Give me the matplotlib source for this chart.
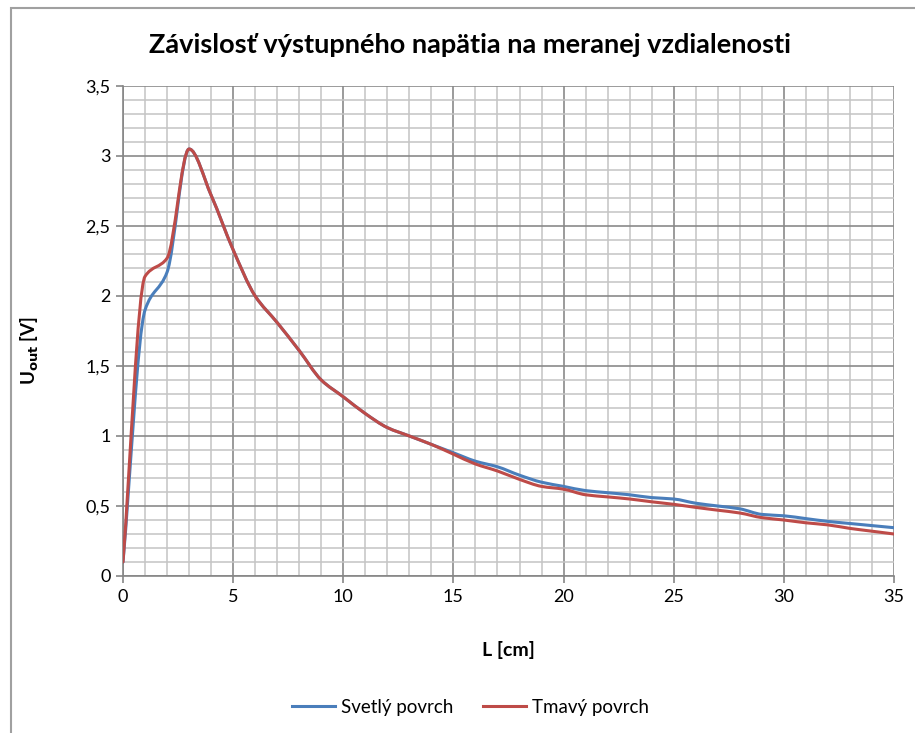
import matplotlib
matplotlib.use("Agg")
import matplotlib.pyplot as plt
import numpy as np
from matplotlib.path import Path
from matplotlib.patches import PathPatch, Rectangle
from matplotlib.lines import Line2D
from matplotlib.ticker import MultipleLocator, FuncFormatter

# distance L [cm]
L = list(range(0, 36))

svetly = [0.10, 1.90, 2.17, 3.05, 2.72, 2.33, 2.00, 1.81, 1.61, 1.40,
          1.28, 1.16, 1.06, 1.00, 0.94, 0.88, 0.82, 0.78, 0.72, 0.67,
          0.64, 0.61, 0.595, 0.58, 0.56, 0.55, 0.52, 0.50, 0.48, 0.44,
          0.43, 0.41, 0.39, 0.375, 0.36, 0.345]

tmavy = [0.10, 2.14, 2.27, 3.05, 2.72, 2.33, 2.00, 1.81, 1.61, 1.40,
         1.28, 1.16, 1.06, 1.00, 0.94, 0.87, 0.80, 0.75, 0.69, 0.64,
         0.62, 0.58, 0.565, 0.55, 0.53, 0.512, 0.49, 0.47, 0.45, 0.417,
         0.40, 0.38, 0.365, 0.34, 0.32, 0.30]

labels = ["Svetlý povrch", "Tmavý povrch"]
colors = ["#4A7EBB", "#BE4B48"]

title = "Závislosť výstupného napätia na meranej vzdialenosti"

plt.rcParams['font.family'] = ['Lato', 'DejaVu Sans']


def smooth_path(x, y):
    # smoothed line through the points, monotone tangents so no overshoot
    x = np.asarray(x, float)
    y = np.asarray(y, float)
    n = len(x)
    h = np.diff(x)
    d = np.diff(y) / h
    m = np.zeros(n)
    m[0], m[-1] = d[0], d[-1]
    for i in range(1, n - 1):
        if d[i - 1] * d[i] > 0:
            w1 = 2 * h[i] + h[i - 1]
            w2 = h[i] + 2 * h[i - 1]
            m[i] = (w1 + w2) / (w1 / d[i - 1] + w2 / d[i])
    verts = [(x[0], y[0])]
    codes = [Path.MOVETO]
    for i in range(n - 1):
        c1 = (x[i] + h[i] / 3, y[i] + m[i] * h[i] / 3)
        c2 = (x[i + 1] - h[i] / 3, y[i + 1] - m[i + 1] * h[i] / 3)
        verts += [c1, c2, (x[i + 1], y[i + 1])]
        codes += [Path.CURVE4] * 3
    return Path(verts, codes)


fig = plt.figure(figsize=(9.15, 7.33), dpi=100)
ax = fig.add_axes([123 / 915, 1 - 576 / 733, (894 - 123) / 915, (576 - 86) / 733])

# chart area frame (cut at right and bottom like the screenshot)
fig.patches.append(Rectangle((11 / 915, -0.1), 1.2, 1.1 - 8 / 733,
                             transform=fig.transFigure, fill=False,
                             edgecolor="#a0a0a0", linewidth=1.5))

for ys, c in zip([svetly, tmavy], colors):
    ax.add_patch(PathPatch(smooth_path(L, ys), fill=False, edgecolor=c,
                           linewidth=2.2, capstyle="round", joinstyle="round",
                           zorder=3))

ax.set_xlim(0, 35)
ax.set_ylim(0, 3.5)
ax.xaxis.set_major_locator(MultipleLocator(5))
ax.xaxis.set_minor_locator(MultipleLocator(1))
ax.yaxis.set_major_locator(MultipleLocator(0.5))
ax.yaxis.set_minor_locator(MultipleLocator(0.1))
ax.yaxis.set_major_formatter(FuncFormatter(lambda v, p: f"{v:g}".replace(".", ",")))

ax.grid(which="major", color="#8a8a8a", linewidth=1.2)
ax.grid(which="minor", color="#c4c4c4", linewidth=1.1)
ax.set_axisbelow(True)

for s in ["top", "right"]:
    ax.spines[s].set_visible(False)
for s in ["left", "bottom"]:
    ax.spines[s].set_color("#868686")
    ax.spines[s].set_linewidth(1.2)

ax.tick_params(which="major", length=5, width=1.2, color="#868686",
               labelsize=13, pad=4)
ax.tick_params(which="minor", length=0)

ax.set_xlabel("L [cm]", fontsize=14, fontweight="bold", labelpad=26)
ax.set_ylabel(r"U$_{\mathbf{out}}$ [V]", fontsize=13.5, fontweight="bold")
ax.yaxis.set_label_coords(-0.107, 0.46)

fig.text(0.514, 1 - 45 / 733, title, ha="center", va="center",
         fontsize=19.5, fontweight="bold")

handles = [Line2D([], [], color=c, linewidth=2.2) for c in colors]
fig.legend(handles, labels, loc="center", bbox_to_anchor=(0.514, 1 - 707 / 733),
           ncol=2, frameon=False, fontsize=13.5, handlelength=2.3,
           handletextpad=0.3, columnspacing=1.6)

fig.savefig("out.png", dpi=100)
